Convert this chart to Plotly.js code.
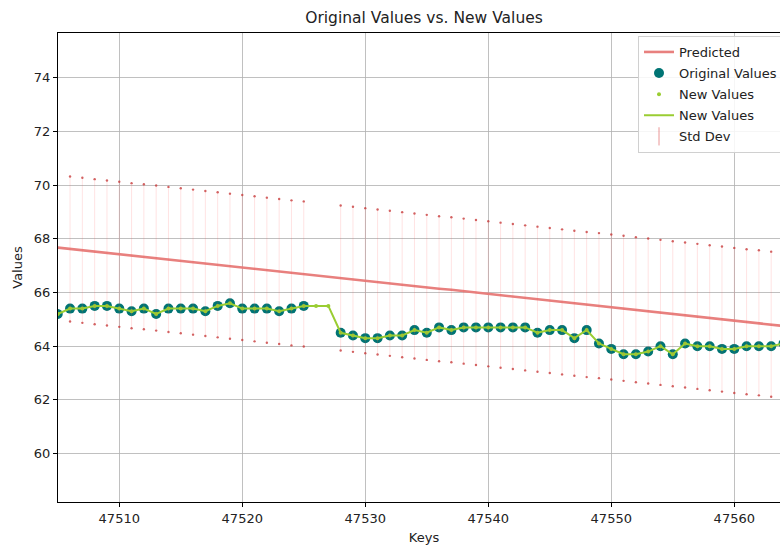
<!DOCTYPE html>
<html>
<head>
<meta charset="utf-8">
<script src="https://cdn.plot.ly/plotly-3.0.1.min.js"></script>
<style>
html,body{margin:0;padding:0;background:#fff;overflow:hidden;width:780px;height:549px;}
#chart{width:830px;height:549px;}
</style>
</head>
<body>
<div id="chart"></div>
<script>
const keys = [47505,47506,47507,47508,47509,47510,47511,47512,47513,47514,
  47515,47516,47517,47518,47519,47520,47521,47522,47523,47524,
  47525,47526,47527,47528,47529,47530,47531,47532,47533,47534,
  47535,47536,47537,47538,47539,47540,47541,47542,47543,47544,
  47545,47546,47547,47548,47549,47550,47551,47552,47553,47554,
  47555,47556,47557,47558,47559,47560,47561,47562,47563,47564];

const originalValues = [65.2,65.4,65.4,65.5,65.5,65.4,65.3,65.4,65.2,65.4,
  65.4,65.4,65.3,65.5,65.6,65.4,65.4,65.4,65.3,65.4,
  65.5,null,null,64.5,64.4,64.3,64.3,64.4,64.4,64.6,
  64.5,64.7,64.6,64.7,64.7,64.7,64.7,64.7,64.7,64.5,
  64.6,64.6,64.3,64.6,64.1,63.9,63.7,63.7,63.8,64.0,
  63.7,64.1,64.0,64.0,63.9,63.9,64.0,64.0,64.0,64.1];

const newValues = [65.2,65.4,65.4,65.5,65.5,65.4,65.3,65.4,65.2,65.4,
  65.4,65.4,65.3,65.5,65.6,65.4,65.4,65.4,65.3,65.4,
  65.5,65.5,65.5,64.5,64.4,64.3,64.3,64.4,64.4,64.6,
  64.5,64.7,64.6,64.7,64.7,64.7,64.7,64.7,64.7,64.5,
  64.6,64.6,64.3,64.6,64.1,63.9,63.7,63.7,63.8,64.0,
  63.7,64.1,64.0,64.0,63.9,63.9,64.0,64.0,64.0,64.1];

const predicted = [67.67,67.62,67.57,67.52,67.47,67.42,67.37,67.33,67.28,67.23,
  67.18,67.13,67.08,67.03,66.98,66.93,66.88,66.83,66.78,66.73,
  66.69,66.64,66.59,66.54,66.49,66.44,66.39,66.34,66.29,66.24,
  66.19,66.14,66.10,66.05,66.00,65.95,65.90,65.85,65.80,65.75,
  65.70,65.65,65.60,65.55,65.51,65.46,65.41,65.36,65.31,65.26,
  65.21,65.16,65.11,65.06,65.01,64.96,64.91,64.87,64.82,64.75];

const stdDev = [null,2.7,2.7,2.7,2.7,2.7,2.7,2.7,2.7,2.7,
  2.7,2.7,2.7,2.7,2.7,2.7,2.7,2.7,2.7,2.7,
  2.7,null,null,2.7,2.7,2.7,2.7,2.7,2.7,2.7,
  2.7,2.7,2.7,2.7,2.7,2.7,2.7,2.7,2.7,2.7,
  2.7,2.7,2.7,2.7,2.7,2.7,2.7,2.7,2.7,2.7,
  2.7,2.7,2.7,2.7,2.7,2.7,2.7,2.7,2.7,2.7];

// error bar centres and cap dot positions derived from the arrays
const ebX = [], ebY = [], ebS = [], capX = [], capY = [];
keys.forEach((k, i) => {
  if (stdDev[i] !== null) {
    ebX.push(k); ebY.push(predicted[i]); ebS.push(stdDev[i]);
    capX.push(k, k); capY.push(predicted[i] + stdDev[i], predicted[i] - stdDev[i]);
  }
});

const font = 'DejaVu Sans, sans-serif';
const traces = [
  {x: keys, y: predicted, mode: 'lines', name: 'Predicted', legendgroup: 'a',
   line: {color: '#e8807e', width: 2.6}},
  {x: keys, y: originalValues, mode: 'markers', name: 'Original Values', legendgroup: 'b',
   marker: {color: '#007474', size: 10}},
  {x: keys, y: newValues, mode: 'markers', name: 'New Values', legendgroup: 'c',
   marker: {color: '#9acd32', size: 4}},
  {x: keys, y: newValues, mode: 'lines', name: 'New Values', legendgroup: 'd',
   line: {color: '#9acd32', width: 2}},
  {x: ebX, y: ebY, mode: 'markers', showlegend: false, hoverinfo: 'skip',
   marker: {color: 'rgba(0,0,0,0)', size: 1},
   error_y: {type: 'data', array: ebS, visible: true, color: 'rgba(255,80,80,0.16)', thickness: 1, width: 0}},
  {x: capX, y: capY, mode: 'markers', showlegend: false, hoverinfo: 'skip',
   marker: {color: 'rgba(200,60,60,0.8)', size: 2.4}},
  {x: [null], y: [null], mode: 'markers', name: 'Std Dev', legendgroup: 'e',
   marker: {symbol: 'line-ns-open', size: 13, color: 'rgba(220,80,80,0.6)', line: {color: 'rgba(220,80,80,0.6)', width: 1}}}
];

const layout = {
  width: 830, height: 549,
  margin: {l: 58, r: 40, t: 33, b: 47},
  paper_bgcolor: '#fff', plot_bgcolor: '#fff',
  font: {family: font, size: 13, color: '#222'},
  title: {text: 'Original Values vs. New Values', font: {family: font, size: 15.5, color: '#222'},
          x: 0.5, xref: 'paper', y: 1 - 18/549, yref: 'container', yanchor: 'middle'},
  xaxis: {range: [47505.02, 47564.53], tickvals: [47510,47520,47530,47540,47550,47560],
          ticktext: ['47510','47520','47530','47540','47550','47560'],
          showgrid: true, gridcolor: '#b0b0b0', gridwidth: 0.8, zeroline: false,
          showline: true, linecolor: '#000', linewidth: 1, mirror: true,
          ticks: 'outside', ticklen: 4, tickcolor: '#000',
          title: {text: 'Keys', font: {family: font, size: 13, color: '#222'}, standoff: 8}},
  yaxis: {range: [58.2, 75.66], tickvals: [60,62,64,66,68,70,72,74],
          showgrid: true, gridcolor: '#b0b0b0', gridwidth: 0.8, zeroline: false,
          showline: true, linecolor: '#000', linewidth: 1, mirror: true,
          ticks: 'outside', ticklen: 4, tickcolor: '#000',
          title: {text: 'Values', font: {family: font, size: 13, color: '#222'}, standoff: 8}},
  legend: {x: (638-58)/732, y: (502-36)/469, xanchor: 'left', yanchor: 'top',
           bgcolor: 'rgba(255,255,255,0.85)', bordercolor: '#d0d0d0', borderwidth: 1,
           tracegroupgap: 1.2,
           font: {family: font, size: 13, color: '#222'}, itemsizing: 'trace'},
  showlegend: true
};

Plotly.newPlot('chart', traces, layout, {displayModeBar: false, staticPlot: true});
</script>
</body>
</html>
